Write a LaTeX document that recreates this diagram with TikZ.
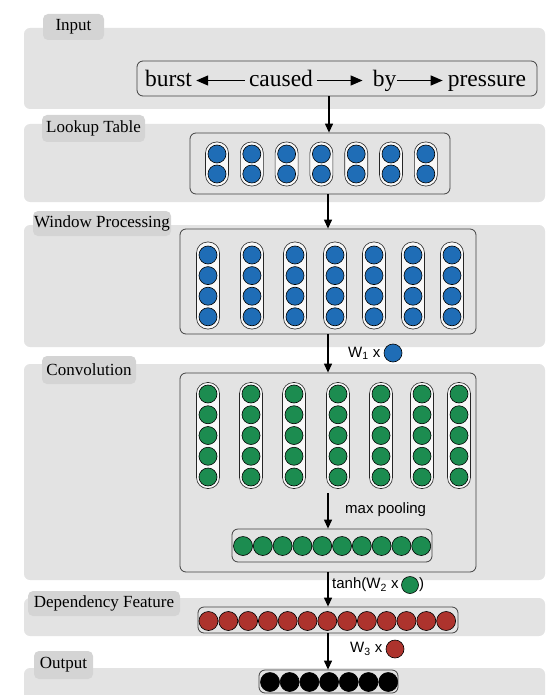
\documentclass[tikz,border=0pt]{standalone}
\usepackage{fontspec}
\setmainfont{Liberation Serif}
\setsansfont{Liberation Sans}
\usetikzlibrary{arrows.meta}
\definecolor{panelgray}{HTML}{E3E3E3}
\definecolor{tabgray}{HTML}{D4D4D4}
\definecolor{cblue}{HTML}{1F6DB6}
\definecolor{cgreen}{HTML}{1C8C50}
\definecolor{cred}{HTML}{AD332D}

\begin{document}
\begin{tikzpicture}[x=1pt, y=-1pt,
    panel/.style={rectangle, rounded corners=6pt, fill=panelgray, minimum width=521pt, inner sep=0pt},
    tab/.style={rectangle, rounded corners=5pt, fill=tabgray, inner sep=0pt, font=\fontsize{17}{20}\selectfont},
    box/.style={rectangle, rounded corners=6pt, draw=black!75, line width=0.8pt, inner sep=0pt},
    caps/.style={rectangle, rounded corners=11pt, draw=black!85, fill=white!75!panelgray, line width=0.6pt, minimum width=23pt, inner sep=0pt},
    unit/.style={circle, draw=black, line width=0.6pt, minimum size=18pt, inner sep=0pt},
    word/.style={font=\fontsize{23.5}{26}\selectfont, inner xsep=4pt, inner ysep=0pt, text height=17pt, text depth=4pt},
    lab/.style={font=\sffamily\fontsize{15}{18}\selectfont, inner sep=0pt},
    flow/.style={line width=1.2pt, -{Triangle[length=9pt,width=8pt]}},
    warr/.style={line width=1.3pt, -{Triangle[length=12pt,width=10pt]}}]
    \useasboundingbox (0,0) rectangle (554,695);
    % layers
    \node[panel, minimum height=81pt] (inP) at (284.5, 68.5) {};
    \node[panel, minimum height=78pt] (lkP) at (284.5, 163) {};
    \node[panel, minimum height=122pt] (winP) at (284.5, 286) {};
    \node[panel, minimum height=216pt] (convP) at (284.5, 472) {};
    \node[panel, minimum height=38pt] (depP) at (284.5, 617) {};
    \node[panel, minimum height=34pt] (outP) at (284.5, 685) {};
    \node[tab, minimum width=61pt, minimum height=26pt] (inT) at (73.5, 27) {Input};
    \node[tab, minimum width=103pt, minimum height=27pt] (lkT) at (93.5, 128.5) {Lookup Table};
    \node[tab, minimum width=138pt, minimum height=25pt] (winT) at (102, 223.5) {Window Processing};
    \node[tab, minimum width=94pt, minimum height=28pt] (convT) at (89, 370) {Convolution};
    \node[tab, minimum width=152pt, minimum height=25pt] (depT) at (104, 603.5) {Dependency Feature};
    \node[tab, minimum width=59pt, minimum height=28pt] (outT) at (63.5, 665) {Output};
    % boxes
    \node[box, minimum width=400pt, minimum height=35pt] (inBox) at (337, 78.5) {};
    \node[box, minimum width=260pt, minimum height=61pt] (lkBox) at (320, 163.5) {};
    \node[box, minimum width=296pt, minimum height=105pt] (winBox) at (328, 281.5) {};
    \node[box, minimum width=296pt, minimum height=199pt] (convBox) at (328, 472.5) {};
    \node[box, minimum width=200pt, minimum height=33pt] (poolBox) at (332, 545.5) {};
    \node[box, minimum width=260pt, minimum height=26pt] (depBox) at (328, 620) {};
    \node[box, minimum width=139pt, minimum height=23pt] (outBox) at (328.5, 681.5) {};
    % input words
    \node[word] (burst) at (168.5, 80.5) {burst};
    \node[word] (caused) at (281, 80.5) {caused};
    \node[word] (by) at (384.5, 80.5) {by};
    \node[word] (pressure) at (487, 80.5) {pressure};
    \draw [warr] (caused.west) to (burst.east);
    \draw [warr, shorten >=6pt] (caused.east) to (by.west);
    \draw [warr, shorten <=-3pt, shorten >=1pt] (by.east) to (pressure.west);
    % lookup table
    \foreach \i in {0,...,6} {
        \node[caps, minimum height=44pt] (lk\i) at (217+34.8*\i, 164) {};
        \foreach \j in {0,1}
            \node[unit, fill=cblue] (lk\i-\j) at (217+34.8*\i, 154+20*\j) {};
    }
    % window processing
    \foreach \x [count=\i] in {208,252,295,335,374,413,452} {
        \node[caps, minimum height=87pt] (win\i) at (\x, 285.5) {};
        \foreach \j in {0,...,3}
            \node[unit, fill=cblue] (win\i-\j) at (\x, 255+20.6*\j) {};
    }
    % convolution
    \foreach \x [count=\i] in {208,251,294,338,381,422,459} {
        \node[caps, minimum height=106pt] (conv\i) at (\x, 435.5) {};
        \foreach \j in {0,...,4}
            \node[unit, fill=cgreen] (conv\i-\j) at (\x, 394+20.75*\j) {};
    }
    \foreach \k in {0,...,9}
        \node[unit, fill=cgreen, minimum size=19pt] (pool\k) at (243+19.8*\k, 546) {};
    % dependency feature and output
    \foreach \k in {0,...,12}
        \node[unit, fill=cred, minimum size=19pt] (dep\k) at (208.5+19.8*\k, 621) {};
    \foreach \k in {0,...,6}
        \node[unit, fill=black, minimum size=19pt] (out\k) at (270+19.7*\k, 682) {};
    % labels
    \node[lab, anchor=west] (w1) at (348, 353) {W\textsubscript{1} x};
    \node[unit, fill=cblue] (w1c) at (393, 353) {};
    \node[lab, anchor=west] (mp) at (345, 510) {max pooling};
    \node[lab, anchor=west] (w2) at (332, 585) {tanh(W\textsubscript{2} x};
    \node[unit, fill=cgreen, minimum size=17pt] (w2c) at (410, 585) {};
    \node[lab, anchor=west] (w2r) at (w2c.east) {)};
    \node[lab, anchor=west] (w3) at (350, 649) {W\textsubscript{3} x};
    \node[unit, fill=cred] (w3c) at (395, 649) {};
    % flow
    \coordinate (mpTop) at (328, 493);
    \draw [flow] (inBox.south -| 329,0) to (lkBox.north -| 329,0);
    \draw [flow] (lkBox.south -| 328,0) to (winBox.north -| 328,0);
    \draw [flow] (winBox.south) to (convBox.north);
    \draw [flow] (mpTop) to (mpTop |- poolBox.north);
    \draw [flow] (convBox.south) to (depBox.north);
    \draw [flow] (depBox.south) to (outBox.north -| depBox.south);
\end{tikzpicture}
\end{document}
